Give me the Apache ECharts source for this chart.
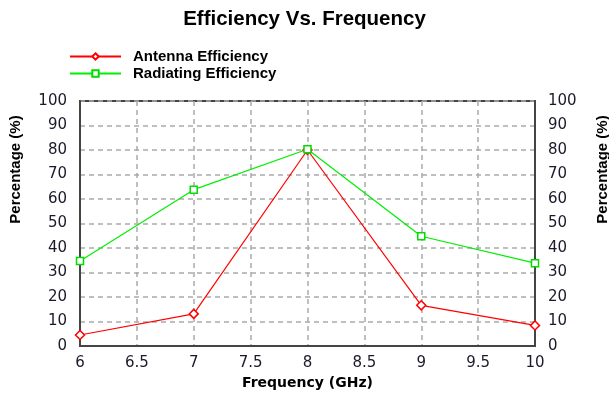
<!DOCTYPE html>
<html><head><meta charset="utf-8">
<script src="https://cdn.jsdelivr.net/npm/echarts@6/dist/echarts.min.js"></script>
<style>html,body{margin:0;padding:0;background:#fff}#c{width:609px;height:394px}</style>
</head><body><div id="c"></div>
<script>
const frequencies = [6, 7, 8, 9, 10];
const antennaEfficiency = [4.5, 13.1, 80, 16.6, 8.4];
const radiatingEfficiency = [34.7, 63.8, 80.3, 44.8, 33.8];
const chartTitle = 'Efficiency Vs. Frequency';
const seriesNames = ['Antenna Efficiency', 'Radiating Efficiency'];
const xName = 'Frequency (GHz)';
const yName = 'Percentage (%)';

const font = 'Liberation Sans, Arial, sans-serif';
const wide = 'DejaVu Sans, sans-serif';
const chart = echarts.init(document.getElementById('c'));
const yAxisBase = {
  type: 'value', min: 0, max: 100, interval: 10,
  name: yName, nameLocation: 'middle', nameRotate: 90,
  nameTextStyle: {fontFamily: font, fontWeight: 'bold', fontSize: 15, color: '#000', padding: [0, 0, 0, 108]},
  axisLine: {show: true, lineStyle: {color: '#444', width: 2}},
  axisTick: {show: false},
  axisLabel: {fontFamily: wide, fontSize: 15, color: '#1a1a2a', margin: 13},
  splitLine: {show: false}
};
chart.setOption({
  animation: false,
  title: {text: chartTitle, left: 'center', top: 4,
    textStyle: {fontFamily: font, fontWeight: 'bold', fontSize: 20.5, color: '#000'}},
  legend: {
    orient: 'vertical', left: 69, top: 49, padding: 0, itemWidth: 51, itemHeight: 8, itemGap: 2,
    textStyle: {fontFamily: font, fontWeight: 'bold', fontSize: 15, color: '#000', padding: [0,0,0,7]},
    data: seriesNames
  },
  grid: {left: 80, right: 74, top: 101, bottom: 48, show: true, borderColor: '#444', borderWidth: 2,
    outerBoundsMode: 'none', containLabel: false},
  xAxis: {
    type: 'value', min: 6, max: 10, interval: 0.5,
    name: xName, nameLocation: 'middle', nameGap: 28,
    nameTextStyle: {fontFamily: wide, fontWeight: 'bold', fontSize: 14, color: '#000'},
    axisLine: {show: true, onZero: false, lineStyle: {color: '#444', width: 2}},
    axisTick: {show: false},
    axisLabel: {fontFamily: wide, fontSize: 15, color: '#1a1a2a', margin: 10},
    splitLine: {show: true, lineStyle: {color: '#aaa', type: [5, 4], width: 1.5}}
  },
  yAxis: [
    Object.assign({}, yAxisBase, {position: 'left', nameGap: 57,
      splitLine: {show: true, lineStyle: {color: '#aaa', type: [5, 4], width: 1.5}}}),
    Object.assign({}, yAxisBase, {position: 'right', nameGap: 60})
  ],
  series: [
    {name: seriesNames[0], type: 'line', symbol: 'diamond', symbolSize: 9, showSymbol: true,
     data: frequencies.map((f, i) => [f, antennaEfficiency[i]]),
     lineStyle: {color: '#ff0000', width: 1.2},
     itemStyle: {color: '#fff', borderColor: '#ff0000', borderWidth: 1.5}},
    {name: seriesNames[1], type: 'line', symbol: 'rect', symbolSize: 7, showSymbol: true,
     data: frequencies.map((f, i) => [f, radiatingEfficiency[i]]),
     lineStyle: {color: '#00ee00', width: 1.2},
     itemStyle: {color: '#fff', borderColor: '#00dd00', borderWidth: 1.5}}
  ]
});
</script></body></html>
